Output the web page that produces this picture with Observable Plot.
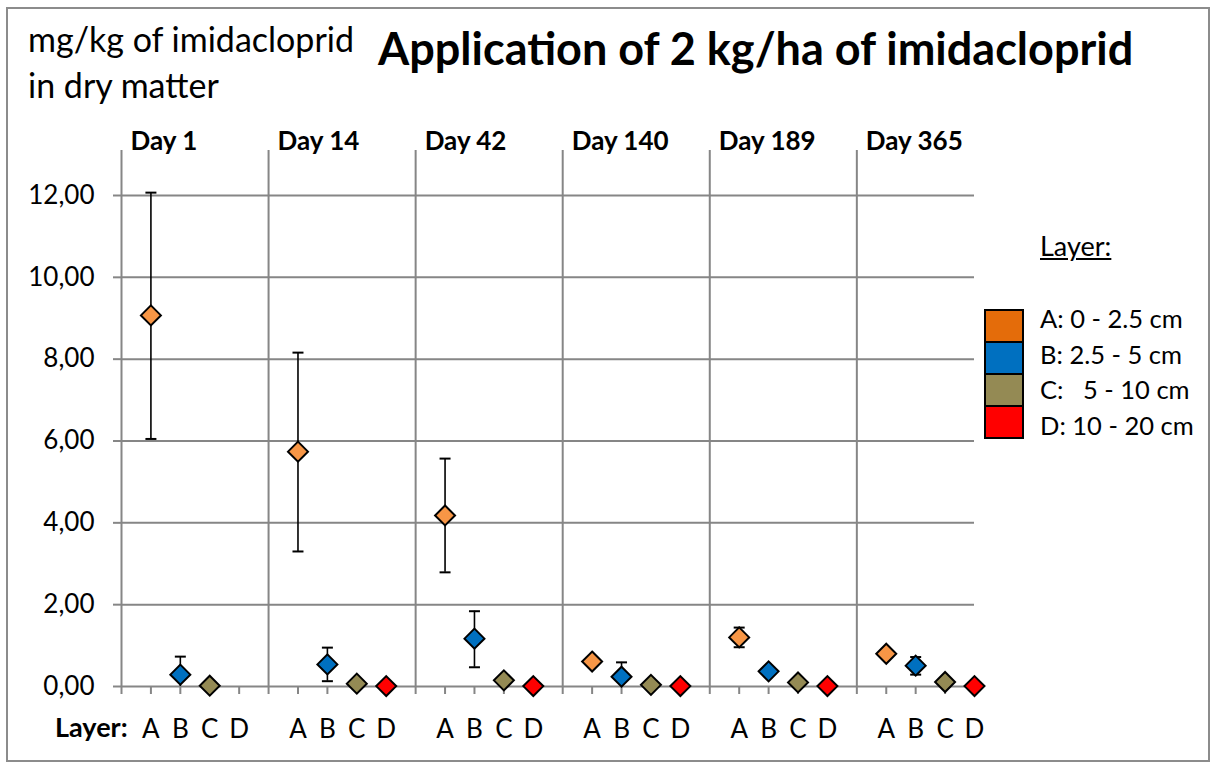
<!DOCTYPE html>
<html>
<head>
<meta charset="utf-8">
<script src="https://cdn.jsdelivr.net/npm/d3@7"></script>
<script src="https://cdn.jsdelivr.net/npm/@observablehq/plot@0.6"></script>
<style>
  body { margin: 0; background: #fff; font-family: Lato, "Open Sans", sans-serif; }
  #wrap { position: relative; width: 1211px; height: 765px; overflow: hidden; }
  #frame { position: absolute; left: 6px; top: 7px; width: 1200px; height: 751px; border: 2px solid #8c8c8c; }
  .t { position: absolute; white-space: pre; color: #000; line-height: 1; }
  #ylab1 { left: 28px; top: 22px; font-size: 34px; }
  #ylab2 { left: 28px; top: 68px; font-size: 34px; }
  #title { left: 378px; top: 26px; font-size: 45px; font-weight: bold; }
  #layerlab { left: 55px; top: 713px; font-size: 27px; font-weight: bold; }
  #legtitle { left: 1040px; top: 232px; font-size: 27px; text-decoration: underline; }
  .sw { position: absolute; left: 984px; width: 36px; height: 30px; border: 2px solid #000; }
  .lt { position: absolute; left: 1040px; font-size: 25.5px; white-space: pre; line-height: 1; }
  #chart { position: absolute; left: 0; top: 0; }
</style>
</head>
<body>
<div id="wrap">
  <div id="frame"></div>
  <div id="chart"></div>
  <div class="t" id="ylab1">mg/kg of imidacloprid</div>
  <div class="t" id="ylab2">in dry matter</div>
  <div class="t" id="title">Application of 2 kg/ha of imidacloprid</div>
  <div class="t" id="layerlab">Layer:</div>
  <div class="t" id="legtitle">Layer:</div>
  <div id="legend"></div>
</div>
<script>
// ---- data ----
const days = ["Day 1", "Day 14", "Day 42", "Day 140", "Day 189", "Day 365"];
const layers = ["A", "B", "C", "D"];
const layerNames = ["A: 0 - 2.5 cm", "B: 2.5 - 5 cm", "C:   5 - 10 cm", "D: 10 - 20 cm"];
const meanA = [9.07, 5.74, 4.18, 0.61, 1.20, 0.80];
const meanB = [0.29, 0.54, 1.17, 0.24, 0.37, 0.51];
const meanC = [0.02, 0.07, 0.15, 0.04, 0.10, 0.11];
const meanD = [null, 0.01, 0.01, 0.01, 0.01, 0.01];
const lowA  = [6.05, 3.30, 2.79, null, 0.96, null];
const highA = [12.07, 8.16, 5.57, null, 1.44, null];
const lowB  = [0.00, 0.13, 0.47, 0.00, null, 0.29];
const highB = [0.73, 0.95, 1.84, 0.59, null, 0.72];
const yTicks = [0, 2, 4, 6, 8, 10, 12];
const markerColors = ["#F79646", "#0070C0", "#948A54", "#FF0000"];
const legendColors = ["#E46C0A", "#0070C0", "#948A54", "#FF0000"];

// ---- build tables ----
const means = [meanA, meanB, meanC, meanD];
const points = [];
days.forEach((d, g) => layers.forEach((l, k) => {
  const v = means[k][g];
  if (v != null) points.push({pos: g * 5 + k + 1, value: v, layer: l});
}));
const errs = [];
[[lowA, highA, 0], [lowB, highB, 1]].forEach(([lo, hi, k]) => {
  days.forEach((d, g) => {
    if (hi[g] != null) errs.push({pos: g * 5 + k + 1, lo: lo[g], hi: hi[g]});
  });
});
const boundaries = days.map((d, g) => g * 5);
const slots = d3.range(0, days.length * 5);

const cap = {draw(ctx) { ctx.moveTo(-5.5, 0); ctx.lineTo(5.5, 0); }};
const grey = "#868686";

const plot = Plot.plot({
  width: 1211,
  height: 765,
  marginLeft: 121,
  marginRight: 237,
  marginTop: 195,
  marginBottom: 79,
  style: {fontFamily: "Lato, 'Open Sans', sans-serif", background: "transparent", overflow: "visible", color: "#000"},
  x: {domain: [0, days.length * 5 - 1]},
  y: {domain: [0, 12]},
  marks: [
    Plot.gridY(yTicks.filter(d => d > 0), {stroke: grey, strokeOpacity: 1, strokeWidth: 2}),
    Plot.ruleX(boundaries, {y1: 0, y2: 13.1, stroke: grey, strokeWidth: 2}),
    Plot.ruleY([0], {stroke: grey, strokeWidth: 2}),
    Plot.axisY(yTicks, {tickSize: 8, tickPadding: 19, stroke: grey, strokeWidth: 2, fill: "#000", fontSize: 26,
      tickFormat: d => d.toFixed(2).replace(".", ","), label: null}),
    Plot.axisX(slots, {anchor: "bottom", tickSize: 8, tickPadding: 25, stroke: grey, strokeWidth: 2, fill: "#000",
      fontSize: 26, tickFormat: i => (i % 5 === 0 ? "" : layers[i % 5 - 1]), label: null}),
    Plot.axisX(boundaries, {anchor: "top", tickSize: 0, tickPadding: 46, textAnchor: "start", dx: 9,
      fontSize: 26, fontWeight: "bold", fill: "#000", tickFormat: (x, i) => days[i], label: null}),
    Plot.ruleX(errs, {x: "pos", y1: "lo", y2: "hi", stroke: "#000", strokeWidth: 1.6}),
    Plot.dot(errs, {x: "pos", y: "hi", symbol: cap, stroke: "#000", strokeWidth: 2}),
    Plot.dot(errs.filter(d => d.lo > 0), {x: "pos", y: "lo", symbol: cap, stroke: "#000", strokeWidth: 2}),
    Plot.dot(points, {x: "pos", y: "value", symbol: "diamond2", r: 9,
      fill: d => markerColors[layers.indexOf(d.layer)], stroke: "#000", strokeWidth: 2})
  ]
});
document.getElementById("chart").appendChild(plot);

// ---- legend ----
const leg = document.getElementById("legend");
layerNames.forEach((name, i) => {
  const sw = document.createElement("div");
  sw.className = "sw";
  sw.style.top = (309 + i * 32) + "px";
  sw.style.background = legendColors[i];
  leg.appendChild(sw);
  const t = document.createElement("div");
  t.className = "lt";
  t.textContent = name;
  t.style.top = (306 + i * 35.5) + "px";
  leg.appendChild(t);
});
</script>
</body>
</html>
